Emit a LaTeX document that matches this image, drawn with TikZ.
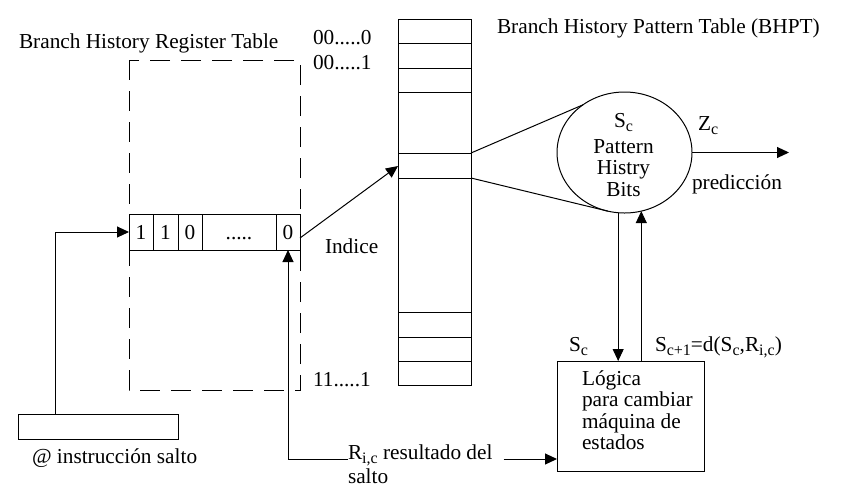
\documentclass[tikz,border=0pt]{standalone}
\usepackage{fontspec}
\setmainfont{Liberation Serif}
\usetikzlibrary{arrows.meta,shapes.geometric}
\newcommand\sbs[1]{\raisebox{-4pt}{\fontsize{16}{16}\selectfont #1}}
\begin{document}
\begin{tikzpicture}[x=1pt,y=-1pt,line width=1pt,
  every node/.style={font=\fontsize{21.3}{21.5}\selectfont, inner sep=0pt, outer sep=0pt},
  arr/.style={-{Triangle[length=12pt,width=11pt]}},
  lbl/.style={anchor=base west},
  cell/.style={draw, fill=white, minimum height=36pt, text height=14pt, text depth=0pt, anchor=north west},
  boxn/.style={draw, fill=white, anchor=north west},
]
\useasboundingbox (0,0) rectangle (845,496);
% titles
\node[lbl] (t1) at (19,48) {Branch History Register Table};
\node[lbl] (t2) at (497,33) {Branch History Pattern Table (BHPT)};
\node[lbl] (a0) at (313,44) {00.....0};
\node[lbl] (a1) at (313,69) {00.....1};
\node[lbl] (a2) at (313,386) {11.....1};
% dashed register table
\draw[dash pattern=on 20pt off 11pt] (129,60) rectangle (300,390);
% register row
\node[cell, minimum width=24pt] (c1) at (129,214) {1};
\node[cell, minimum width=25pt] (c2) at (153,214) {1};
\node[cell, minimum width=24pt] (c3) at (178,214) {0};
\node[cell, minimum width=74pt] (c4) at (202,214) {.....};
\node[cell, minimum width=24pt] (c5) at (276,214) {0};
% address box
\node[boxn, minimum width=160pt, minimum height=25pt] (addr) at (18,414) {};
\node[lbl] (addrlab) at (32,463) {@ instrucción salto};
\draw[arr] ([xshift=37pt]addr.north west) |- (c1.west);
% BHPT column
\node[boxn, minimum width=73pt, minimum height=366pt] (bhpt) at (398,19) {};
\foreach \yy in {43,68,92,153,178,312,337,361} \draw (398,\yy) -- (471,\yy);
\coordinate (rowin) at (398,166);
\coordinate (r1) at (471,153);
\coordinate (r2) at (471,178);
\draw[arr] ([yshift=-6pt]c5.east) -- (rowin);
\node[lbl] (idx) at (325,253) {Indice};
% ellipse
\node[draw, ellipse, minimum width=135pt, minimum height=121pt] (ell) at (624.5,152.5) {};
\node[align=center] (elltext) at (623.5,155.2) {S\sbs{c}\\[4pt]Pattern\\Histry\\Bits};
\draw (r1) -- (ell.131);
\draw (r2) -- (ell.254);
\coordinate (zend) at (789,152.5);
\draw[arr] (ell.east) -- (zend);
\node[lbl] (zc) at (698,130) {Z\sbs{c}};
\node[lbl] (pred) at (692,189) {predicción};
% logic box
\node[boxn, minimum width=147pt, minimum height=110pt] (logic) at (557,361) {};
\node[align=left, anchor=west] (logtext) at (582,410) {Lógica\\para cambiar\\máquina de\\estados};
\draw[arr] (ell.264) -- (ell.264 |- logic.north);
\draw[arr] (ell.286 |- logic.north) -- (ell.286);
\node[lbl] (sc) at (569,351) {S\sbs{c}};
\node[lbl] (sc1) at (655,351) {S\sbs{c+1}=d(S\sbs{c},R\sbs{i,c})};
% result
\node[lbl] (rlab) at (348,459) {R\sbs{i,c} resultado del};
\node[lbl] (salto) at (348,483) {salto};
\draw[arr] (rlab.base west) -| (c5.south);
\draw[arr] ([xshift=11pt]rlab.base east) -- (logic.west |- rlab.base);
\end{tikzpicture}
\end{document}
